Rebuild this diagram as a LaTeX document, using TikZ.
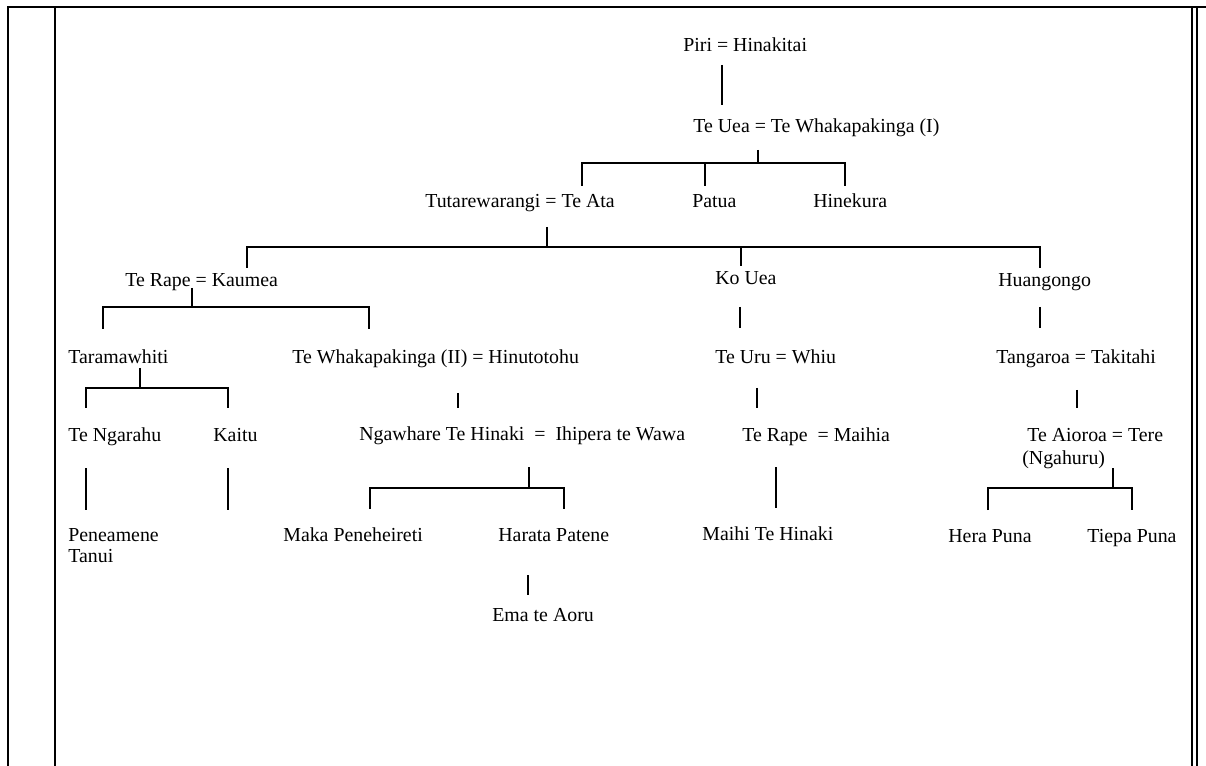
\documentclass[tikz,border=0pt]{standalone}
\usepackage{fontspec}
\setmainfont{Liberation Serif}
\begin{document}
\begin{tikzpicture}[x=0.02cm, y=-0.02cm,
  person/.style={anchor=mid west, inner sep=0pt, font=\fontsize{11.3}{13}\selectfont},
  link/.style={line width=1.1pt}]
  \useasboundingbox (0,0) rectangle (1206,766);

  % Page frame
  \draw[line width=1.4pt] (8,766) -- (8,7) -- (1206,7);
  \draw[line width=1.1pt] (55,8) -- (55,766);
  \draw[line width=0.7pt] (1192,7) -- (1192,766);
  \draw[line width=0.7pt] (1197,7) -- (1197,766);

  % Generation 1 and 2
  \node[person] (piri) at (683,47) {Piri = Hinakitai};
  \node[person] (teuea) at (693,128) {Te Uea = Te Whakapakinga (I)};

  % Generation 3
  \node[person] (tutare) at (425,203) {Tutarewarangi = Te Ata};
  \node[person] (patua) at (692,203) {Patua};
  \node[person] (hinekura) at (813,203) {Hinekura};

  % Generation 4
  \node[person] (terape) at (125,282) {Te Rape = Kaumea};
  \node[person] (kouea) at (715,280) {Ko Uea};
  \node[person] (huang) at (998,282) {Huangongo};

  % Generation 5
  \node[person] (taram) at (68,359) {Taramawhiti};
  \node[person] (whaka) at (292,359) {Te Whakapakinga (II) = Hinutotohu};
  \node[person] (teuru) at (715,359) {Te Uru = Whiu};
  \node[person] (tangaroa) at (996,359) {Tangaroa = Takitahi};

  % Generation 6
  \node[person] (ngarahu) at (68,437) {Te Ngarahu};
  \node[person] (kaitu) at (213,437) {Kaitu};
  \node[person] (ngawhare) at (359,436) {Ngawhare Te Hinaki\ \ =\ \ Ihipera te Wawa};
  \node[person] (terapem) at (742,437) {Te Rape\ \ = Maihia};
  \node[person] (aioroa) at (1027,437) {Te Aioroa = Tere};
  \node[person] (ngahuru) at (1022,460) {(Ngahuru)};

  % Generation 7 and 8
  \node[person] (pene) at (68,537) {Peneamene};
  \node[person] (tanui) at (68,558) {Tanui};
  \node[person] (maka) at (283,537) {Maka Peneheireti};
  \node[person] (harata) at (498,537) {Harata Patene};
  \node[person] (maihi) at (702,536) {Maihi Te Hinaki};
  \node[person] (hera) at (948,538) {Hera Puna};
  \node[person] (tiepa) at (1087,538) {Tiepa Puna};
  \node[person] (ema) at (492,617) {Ema te Aoru};

  % Joints of the lines
  \coordinate (a1) at (722,65);   \coordinate (a2) at (722,105);
  \coordinate (b0) at (758,150);  \coordinate (b1) at (758,163);
  \coordinate (bl) at (582,163);  \coordinate (bl2) at (582,186);
  \coordinate (bm) at (705,163);  \coordinate (bm2) at (705,186);
  \coordinate (br) at (845,163);  \coordinate (br2) at (845,186);
  \coordinate (c0) at (547,227);  \coordinate (c1) at (547,247);
  \coordinate (cl) at (247,247);  \coordinate (cl2) at (247,268);
  \coordinate (cm) at (741,247);  \coordinate (cm2) at (741,266);
  \coordinate (cr) at (1040,247); \coordinate (cr2) at (1040,268);
  \coordinate (d0) at (192,288);  \coordinate (d1) at (192,307);
  \coordinate (dl) at (103,307);  \coordinate (dl2) at (103,329);
  \coordinate (dr) at (369,307);  \coordinate (dr2) at (369,329);
  \coordinate (e1) at (740,307);  \coordinate (e2) at (740,328);
  \coordinate (f1) at (1040,307); \coordinate (f2) at (1040,328);
  \coordinate (g0) at (140,368);  \coordinate (g1) at (140,388);
  \coordinate (gl) at (86,388);   \coordinate (gl2) at (86,408);
  \coordinate (gr) at (228,388);  \coordinate (gr2) at (228,408);
  \coordinate (h1) at (458,393);  \coordinate (h2) at (458,408);
  \coordinate (i1) at (757,388);  \coordinate (i2) at (757,408);
  \coordinate (j1) at (1077,390); \coordinate (j2) at (1077,408);
  \coordinate (k1) at (86,468);   \coordinate (k2) at (86,510);
  \coordinate (l1) at (228,468);  \coordinate (l2) at (228,510);
  \coordinate (m0) at (529,467);  \coordinate (m1) at (529,488);
  \coordinate (ml) at (370,488);  \coordinate (ml2) at (370,509);
  \coordinate (mr) at (564,488);  \coordinate (mr2) at (564,509);
  \coordinate (n1) at (776,467);  \coordinate (n2) at (776,508);
  \coordinate (o0) at (1113,468); \coordinate (o1) at (1113,488);
  \coordinate (ol) at (988,488);  \coordinate (ol2) at (988,510);
  \coordinate (or) at (1132,488); \coordinate (or2) at (1132,510);
  \coordinate (p1) at (528,575);  \coordinate (p2) at (528,595);

  % Descent lines
  \draw[link] (a1) -- (a2);
  \draw[link] (b0) -- (b1);
  \draw[link] (bl2) -- (bl) -- (br) -- (br2);
  \draw[link] (bm) -- (bm2);
  \draw[link] (c0) -- (c1);
  \draw[link] (cl2) -- (cl) -- (cr) -- (cr2);
  \draw[link] (cm) -- (cm2);
  \draw[link] (d0) -- (d1);
  \draw[link] (dl2) -- (dl) -- (dr) -- (dr2);
  \draw[link] (e1) -- (e2);
  \draw[link] (f1) -- (f2);
  \draw[link] (g0) -- (g1);
  \draw[link] (gl2) -- (gl) -- (gr) -- (gr2);
  \draw[link] (h1) -- (h2);
  \draw[link] (i1) -- (i2);
  \draw[link] (j1) -- (j2);
  \draw[link] (k1) -- (k2);
  \draw[link] (l1) -- (l2);
  \draw[link] (m0) -- (m1);
  \draw[link] (ml2) -- (ml) -- (mr) -- (mr2);
  \draw[link] (n1) -- (n2);
  \draw[link] (o0) -- (o1);
  \draw[link] (ol2) -- (ol) -- (or) -- (or2);
  \draw[link] (p1) -- (p2);

\end{tikzpicture}
\end{document}
